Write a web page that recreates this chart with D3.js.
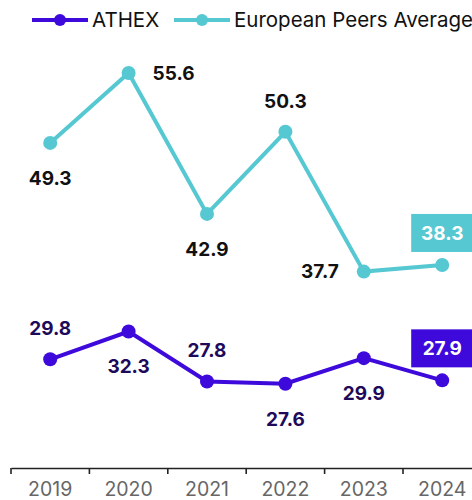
<!DOCTYPE html>
<html>
<head>
<meta charset="utf-8">
<script src="https://cdn.jsdelivr.net/npm/d3@7"></script>
<style>
	html, body { margin: 0; padding: 0; background: #fff; }
	svg { display: block; font-family: Inter, "Noto Sans", sans-serif; }
</style>
</head>
<body>
<div id="chart"></div>
<script>
// data
const years = ['2019', '2020', '2021', '2022', '2023', '2024']
const athex = [29.8, 32.3, 27.8, 27.6, 29.9, 27.9]
const peers = [49.3, 55.6, 42.9, 50.3, 37.7, 38.3]

// label placement for each point (layout only)
const athexPlace = ['above', 'below', 'above', 'below', 'below', 'box']
const peersPlace = ['below', 'right', 'below', 'above', 'left', 'box']

const width = 472, height = 500
const purple = '#3d0adb', teal = '#55c8d2'

const svg = d3.select('#chart').append('svg')
	.attr('width', width)
	.attr('height', height)

const x = d3.scaleBand().domain(years).range([11, 11 + 6 * 78.4])
const y = d3.scaleLinear().domain([20, 62]).range([468, 2])
const cx = (d) => x(d) + x.bandwidth() / 2

/**
 * x axis: ticks on band edges, labels in the middle
 */
const axis = svg.append('g')
	.attr('transform', 'translate(0,468)')
	.call(d3.axisBottom(x).tickSize(0).tickPadding(14))
axis.select('.domain').attr('stroke', '#222').attr('stroke-width', 1.6)
axis.selectAll('text')
	.attr('font-size', 19.5)
	.attr('fill', '#666')
	.attr('font-family', 'Inter, sans-serif')
axis.selectAll('.edge')
	.data(years)
	.enter().append('line')
	.attr('x1', d => x(d)).attr('x2', d => x(d))
	.attr('y1', 0).attr('y2', 6)
	.attr('stroke', '#222').attr('stroke-width', 1.6)

const line = d3.line()
	.x((d, i) => cx(years[i]))
	.y(d => y(d))

const drawSeries = (values, color, labelColor, place) => {
	const g = svg.append('g')
	g.append('path')
		.datum(values)
		.attr('d', line)
		.attr('fill', 'none')
		.attr('stroke', color)
		.attr('stroke-width', 4)
	g.selectAll('circle')
		.data(values)
		.enter().append('circle')
		.attr('cx', (d, i) => cx(years[i]))
		.attr('cy', d => y(d))
		.attr('r', 7)
		.attr('fill', color)

	values.forEach((v, i) => {
		const px = cx(years[i]), py = y(v), p = place[i]
		let tx = px, ty = py, anchor = 'middle'
		if (p === 'above') ty = py - 31
		if (p === 'below') ty = py + 35
		if (p === 'right') { tx = px + 24; anchor = 'start' }
		if (p === 'left') { tx = px - 25; anchor = 'end' }
		if (p === 'box') {
			ty = py - 32
			g.append('rect')
				.attr('x', px - 31).attr('y', ty - 19)
				.attr('width', 62).attr('height', 38)
				.attr('fill', color)
		}
		g.append('text')
			.attr('x', tx).attr('y', ty)
			.attr('dy', '0.36em')
			.attr('text-anchor', anchor)
			.attr('font-size', 19)
			.attr('font-weight', 700)
			.attr('fill', p === 'box' ? '#fff' : labelColor)
			.text(v.toFixed(1))
	})
}

drawSeries(peers, teal, '#111', peersPlace)
drawSeries(athex, purple, '#1e0a5a', athexPlace)

// legend
const legend = [
	{ name: 'ATHEX', color: purple, x: 32 },
	{ name: 'European Peers Average', color: teal, x: 174 }
]
const lg = svg.selectAll('.legend')
	.data(legend)
	.enter().append('g')
	.attr('transform', d => 'translate(' + d.x + ',20)')
lg.append('line')
	.attr('x1', 0).attr('x2', 56)
	.attr('stroke', d => d.color).attr('stroke-width', 4)
lg.append('circle')
	.attr('cx', 28).attr('r', 6)
	.attr('fill', d => d.color)
lg.append('text')
	.attr('x', 60).attr('dy', '0.35em')
	.attr('font-size', 20.5)
	.attr('fill', '#111')
	.text(d => d.name)
</script>
</body>
</html>
